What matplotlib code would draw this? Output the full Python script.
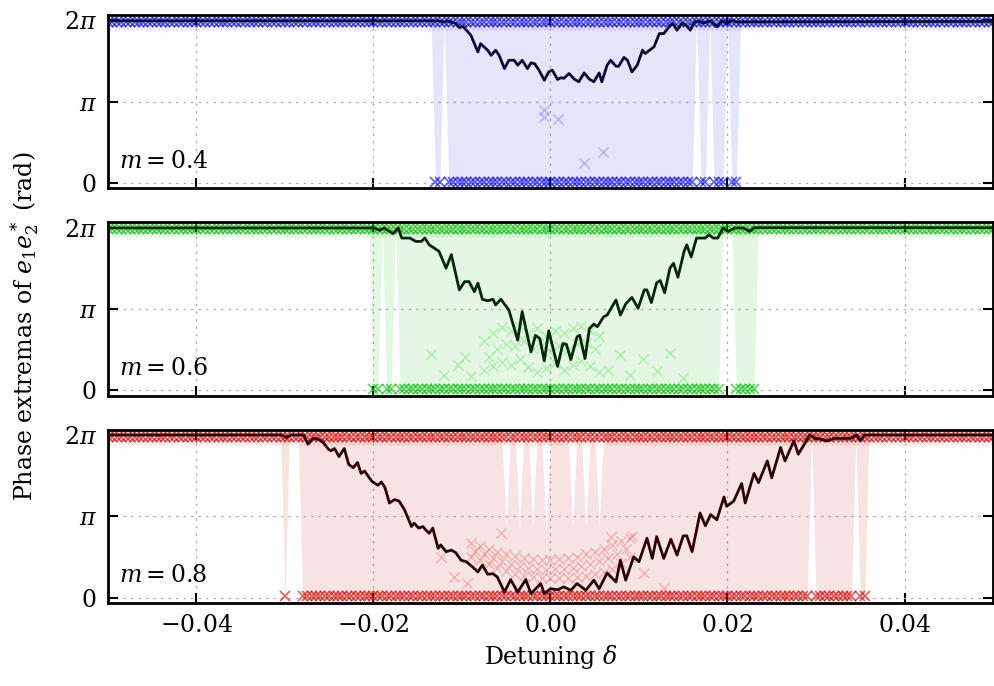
import numpy as np
import matplotlib
matplotlib.use("Agg")
import matplotlib.pyplot as plt

plt.rcParams['font.family'] = 'DejaVu Serif'
plt.rcParams['mathtext.fontset'] = 'dejavuserif'

TWO_PI = 2 * np.pi

# detuning grid on which the phase extrema were sampled
delta = np.round(np.linspace(-0.05, 0.05, 201), 4)
step = 0.0005

# levels of the marker bands
band_top = 6.22
band_top_tail = 6.02
band_bottom = 0.06

# ---------------- m = 0.4 ----------------
blue_line_d = [-0.050, -0.0127, -0.0120, -0.0116, -0.0107, -0.0103, -0.0099, -0.0095, -0.0090, -0.0082,
               -0.0079, -0.0071, -0.0067, -0.0062, -0.0058, -0.0052, -0.0047, -0.0041, -0.0037, -0.0032,
               -0.0026, -0.0022, -0.0018, -0.0013, -0.0007, -0.0002, 0.0002, 0.0008, 0.0012, 0.0015,
               0.0021, 0.0027, 0.0032, 0.0038, 0.0044, 0.0049, 0.0055, 0.0058, 0.0064, 0.0068,
               0.0074, 0.0077, 0.0083, 0.0087, 0.0092, 0.0098, 0.0104, 0.0107, 0.0117, 0.0123,
               0.0128, 0.0134, 0.0138, 0.0143, 0.0149, 0.0153, 0.0158, 0.0162, 0.0166, 0.0173,
               0.0181, 0.0188, 0.0194, 0.0199, 0.0205, 0.0211, 0.050]
blue_line_v = [6.26, 6.26, 6.22, 6.26, 6.16, 6.00, 6.05, 5.90, 5.71, 5.06,
               5.38, 5.13, 4.93, 5.13, 4.93, 4.42, 4.74, 4.74, 4.55, 4.74,
               4.42, 4.64, 4.61, 4.36, 3.97, 4.29, 4.36, 4.00, 4.07, 4.04,
               4.23, 4.01, 3.91, 4.25, 4.01, 3.91, 4.25, 3.91, 4.55, 4.74,
               4.51, 4.51, 4.85, 4.74, 4.29, 4.55, 5.13, 5.00, 5.26, 5.77,
               5.77, 6.03, 6.16, 5.90, 6.18, 6.10, 5.90, 6.18, 6.26, 6.18,
               6.26, 6.03, 6.26, 6.16, 6.28, 6.22, 6.24]
blue_lock = [(-0.0130, 0.0210)]
blue_gaps = [-0.0120, 0.0165, 0.0180, 0.0200]
blue_dips_d = []
blue_dips_v = []
blue_cloud_d = [-0.0007, -0.0007, 0.0008, 0.0038, 0.0059]
blue_cloud_v = [2.81, 2.56, 2.49, 0.78, 1.21]

# ---------------- m = 0.6 ----------------
green_line_d = [-0.050, -0.0199, -0.0193, -0.0188, -0.0178, -0.0172, -0.0168, -0.0159, -0.0152, -0.0146,
                -0.0142, -0.0137, -0.0126, -0.0118, -0.0112, -0.0103, -0.0097, -0.0092, -0.0086, -0.0082,
                -0.0077, -0.0071, -0.0065, -0.0062, -0.0056, -0.0047, -0.0037, -0.0032, -0.0022, -0.0017,
                -0.0012, -0.0007, -0.0002, 0.0008, 0.0014, 0.0018, 0.0023, 0.0030, 0.0033, 0.0039,
                0.0044, 0.0049, 0.0053, 0.0060, 0.0064, 0.0074, 0.0079, 0.0085, 0.0092, 0.0099,
                0.0106, 0.0109, 0.0114, 0.0120, 0.0124, 0.0129, 0.0135, 0.0139, 0.0144, 0.0151,
                0.0154, 0.0159, 0.0165, 0.0175, 0.0179, 0.0184, 0.0189, 0.0195, 0.0201, 0.0208,
                0.0218, 0.0225, 0.0230, 0.050]
green_line_v = [6.27, 6.27, 6.18, 6.27, 6.05, 6.27, 5.88, 5.88, 5.75, 5.75,
                5.88, 5.62, 5.37, 4.72, 5.24, 3.88, 4.20, 4.20, 3.81, 4.14,
                3.52, 3.46, 3.52, 3.30, 3.52, 3.10, 1.94, 3.04, 1.49, 2.13,
                2.00, 1.14, 2.30, 0.93, 1.81, 1.78, 1.19, 2.07, 2.13, 1.23,
                2.39, 2.56, 2.46, 2.84, 2.91, 3.49, 2.91, 3.34, 3.59, 3.17,
                3.88, 3.88, 3.39, 4.16, 4.24, 3.77, 4.72, 4.91, 4.37, 5.37,
                5.62, 5.15, 5.88, 5.88, 6.01, 5.88, 5.88, 6.27, 6.14, 6.27,
                6.27, 6.14, 6.28, 6.28]
green_lock = [(-0.0200, 0.0230)]
green_gaps = [-0.0190, -0.0175, 0.0195, 0.0200, 0.0205]
green_dips_d = []
green_dips_v = []
green_cloud_d = [-0.0075, -0.0065, -0.0055, -0.0045, -0.0035, -0.0025, -0.0015,
                 -0.0005, 0.0005, 0.0015, 0.0025, 0.0035, 0.0045, 0.0055,
                 -0.0075, -0.0065, -0.0055, -0.0045, -0.0035, -0.0025, -0.0015,
                 -0.0005, 0.0005, 0.0015, 0.0025, 0.0035, 0.0045, 0.0055,
                 -0.0070, -0.0060, -0.0050, -0.0040, -0.0030, -0.0020, -0.0010,
                 0.0000, 0.0010, 0.0020, 0.0030, 0.0040, 0.0050,
                 -0.0135, -0.0120, -0.0105, -0.0097, -0.0090, 0.0065, 0.0078,
                 0.0090, 0.0105, 0.0120, 0.0135, 0.0150]
green_cloud_v = [1.90, 2.20, 2.45, 2.30, 2.50, 2.20, 2.40, 2.10, 2.30, 2.20, 2.40, 2.50, 2.30, 2.10,
                 0.80, 0.95, 1.10, 1.00, 1.20, 0.90, 0.70, 0.85, 1.05, 0.80, 1.00, 1.15, 0.95, 0.70,
                 1.30, 1.60, 1.80, 1.70, 1.90, 1.60, 1.75, 1.50, 1.70, 1.55, 1.80, 1.85, 1.60,
                 1.42, 0.60, 1.00, 1.29, 0.55, 0.80, 1.35, 0.60, 1.20, 0.75, 1.45, 0.50]

# ---------------- m = 0.8 ----------------
red_line_d = [-0.050, -0.0304, -0.0298, -0.0293, -0.0279, -0.0274, -0.0268, -0.0263, -0.0257, -0.0251,
              -0.0248, -0.0244, -0.0239, -0.0233, -0.0228, -0.0223, -0.0218, -0.0214, -0.0210, -0.0202,
              -0.0195, -0.0191, -0.0187, -0.0182, -0.0176, -0.0171, -0.0165, -0.0157, -0.0154, -0.0149,
              -0.0144, -0.0141, -0.0137, -0.0133, -0.0127, -0.0124, -0.0118, -0.0112, -0.0107, -0.0101,
              -0.0095, -0.0088, -0.0082, -0.0077, -0.0071, -0.0065, -0.0060, -0.0052, -0.0045, -0.0037,
              -0.0028, -0.0022, -0.0011, -0.0007, 0.0000, 0.0008, 0.0015, 0.0023, 0.0030, 0.0040,
              0.0049, 0.0055, 0.0064, 0.0074, 0.0079, 0.0085, 0.0094, 0.0100, 0.0109, 0.0115,
              0.0120, 0.0128, 0.0136, 0.0143, 0.0150, 0.0154, 0.0160, 0.0169, 0.0175, 0.0181,
              0.0188, 0.0196, 0.0199, 0.0207, 0.0216, 0.0220, 0.0230, 0.0235, 0.0245, 0.0250,
              0.0260, 0.0265, 0.0275, 0.0280, 0.0293, 0.0299, 0.0305, 0.0312, 0.0320, 0.0339,
              0.0346, 0.0350, 0.0355, 0.050]
red_line_v = [6.28, 6.28, 6.19, 6.28, 6.28, 5.93, 6.15, 6.13, 6.00, 5.74,
              5.67, 5.76, 5.45, 5.76, 5.15, 5.02, 5.22, 4.80, 4.89, 4.50,
              4.34, 4.47, 4.25, 3.66, 3.79, 3.73, 3.40, 2.75, 2.88, 2.69,
              2.75, 2.62, 2.49, 2.69, 1.91, 2.04, 1.78, 1.84, 1.74, 1.45,
              1.39, 1.19, 1.00, 1.26, 0.91, 0.93, 0.80, 0.22, 0.70, 0.22,
              0.70, 0.16, 0.55, 0.16, 0.35, 0.31, 0.42, 0.29, 0.55, 0.29,
              0.68, 0.35, 0.96, 0.61, 1.45, 0.68, 1.58, 1.39, 2.30, 1.52,
              2.36, 1.52, 2.26, 1.65, 2.39, 2.39, 1.78, 3.27, 2.78, 3.21,
              3.01, 3.89, 3.53, 3.73, 4.41, 3.66, 4.80, 4.44, 5.28, 4.63,
              5.80, 5.28, 6.06, 5.54, 6.28, 6.15, 6.13, 6.05, 6.15, 6.15,
              6.28, 6.06, 6.28, 6.28]
red_lock = [(-0.0300, -0.0300), (-0.0280, 0.0355)]
red_gaps = [0.0295, 0.0345]
red_dips_d = [-0.0050, -0.0035, -0.0020, -0.0005, 0.0025, 0.0040, 0.0055]
red_dips_v = [2.8, 2.7, 2.8, 2.6, 2.8, 2.7, 2.8]
red_cloud_d = [-0.0090, -0.0080, -0.0070, -0.0060, -0.0050, -0.0040, -0.0030, -0.0020, -0.0010, 0.0000,
               0.0010, 0.0020, 0.0030, 0.0040, 0.0050, 0.0060, 0.0070, 0.0080, 0.0090,
               -0.0090, -0.0080, -0.0070, -0.0060, -0.0050, -0.0040, -0.0030, -0.0020, -0.0010, 0.0000,
               0.0010, 0.0020, 0.0030, 0.0040, 0.0050, 0.0060, 0.0070, 0.0080, 0.0090,
               -0.0085, -0.0075, -0.0065, -0.0055, -0.0045, -0.0035, -0.0025, -0.0015, -0.0005,
               0.0005, 0.0015, 0.0025, 0.0035, 0.0045, 0.0055, 0.0065, 0.0075, 0.0085,
               -0.0124, -0.0109, -0.0094, -0.0056, 0.0068, 0.0092, 0.0106, 0.0128]
red_cloud_v = [2.10, 2.00, 1.90, 1.78, 1.70, 1.62, 1.55, 1.50, 1.46, 1.45,
               1.48, 1.52, 1.58, 1.68, 1.78, 1.90, 2.02, 2.18, 2.32,
               1.58, 1.45, 1.30, 1.15, 1.02, 0.92, 0.85, 0.80, 0.76, 0.75,
               0.76, 0.78, 0.80, 0.84, 0.90, 1.00, 1.12, 1.35, 1.58,
               1.80, 1.68, 1.55, 1.42, 1.32, 1.22, 1.15, 1.12, 1.08,
               1.10, 1.12, 1.15, 1.22, 1.30, 1.42, 1.55, 1.70, 1.88,
               1.58, 0.80, 0.58, 2.50, 2.36, 2.40, 0.94, 0.36]

panels = [
    dict(label=r'$m = 0.4$', color='#0000e0', fill='#3030d0', line='#0b0b33',
         line_d=blue_line_d, line_v=blue_line_v, lock=blue_lock, gaps=blue_gaps,
         dips_d=blue_dips_d, dips_v=blue_dips_v, cloud_d=blue_cloud_d, cloud_v=blue_cloud_v),
    dict(label=r'$m = 0.6$', color='#00bb00', fill='#20c020', line='#062806',
         line_d=green_line_d, line_v=green_line_v, lock=green_lock, gaps=green_gaps,
         dips_d=green_dips_d, dips_v=green_dips_v, cloud_d=green_cloud_d, cloud_v=green_cloud_v),
    dict(label=r'$m = 0.8$', color='#cc0000', fill='#cc2020', line='#2a0505',
         line_d=red_line_d, line_v=red_line_v, lock=red_lock, gaps=red_gaps,
         dips_d=red_dips_d, dips_v=red_dips_v, cloud_d=red_cloud_d, cloud_v=red_cloud_v),
]


def grid_index(values):
    return np.rint((np.asarray(values, float) + 0.05) / step).astype(int)


fig, axes = plt.subplots(3, 1, figsize=(9.95, 6.86), dpi=100, sharex=True)
fig.subplots_adjust(left=0.1085, right=0.998, top=0.978, bottom=0.121, hspace=0.197)

for ax, p in zip(axes, panels):
    # region between the lower and upper phase extremum
    inside = np.zeros(delta.size, dtype=bool)
    for lo, hi in p['lock']:
        inside[grid_index(lo):grid_index(hi) + 1] = True
    inside[grid_index(p['gaps'])] = False
    lower = np.where(inside, 0.0, TWO_PI)
    upper = np.full(delta.size, TWO_PI)
    if p['dips_d']:
        upper[grid_index(p['dips_d'])] = p['dips_v']
    ax.fill_between(delta, lower, upper, color=p['fill'], alpha=0.12, lw=0, zorder=1)

    # extrema markers
    ax.plot(delta, np.full(delta.size, band_top), 'x', color=p['color'], ms=7, mew=1.3,
            alpha=0.6, zorder=2)
    ax.plot(delta, np.full(delta.size, band_top_tail), 'x', color=p['color'], ms=5, mew=0.8,
            alpha=0.1, zorder=2)
    ax.plot(delta[inside], np.full(inside.sum(), band_bottom), 'x', color=p['color'], ms=7,
            mew=1.3, alpha=0.6, zorder=2)
    ax.plot(p['cloud_d'], p['cloud_v'], 'x', color=p['color'], ms=7, mew=1, alpha=0.22, zorder=2)

    ax.plot(p['line_d'], p['line_v'], '-', color=p['line'], lw=2, zorder=4)

    ax.text(0.013, 0.09, p['label'], transform=ax.transAxes, fontsize=17, ha='left', va='bottom')

    ax.set_xlim(-0.05, 0.05)
    ax.set_ylim(-0.2, TWO_PI + 0.2)
    ax.set_yticks([0, np.pi, TWO_PI])
    ax.set_yticklabels(['$0$', r'$\pi$', r'$2\pi$'])
    ax.set_xticks([-0.04, -0.02, 0.0, 0.02, 0.04])
    ax.grid(True, color='#b0b0b0', linestyle=(0, (2, 4)), lw=0.9)
    ax.set_axisbelow(True)
    ax.tick_params(direction='in', length=7, width=1.5, top=True, right=True,
                   labelsize=17, pad=8)
    for s in ax.spines.values():
        s.set_linewidth(2)

axes[-1].set_xticklabels(['$-0.04$', '$-0.02$', '$0.00$', '$0.02$', '$0.04$'])
axes[-1].set_xlabel(r'Detuning $\delta$', fontsize=17)
fig.text(0.025, 1 - 326 / 686, r'Phase extremas of $e_1e_2^*$ (rad)', rotation=90,
         ha='center', va='center', fontsize=17)

fig.savefig('out.png', dpi=100)
